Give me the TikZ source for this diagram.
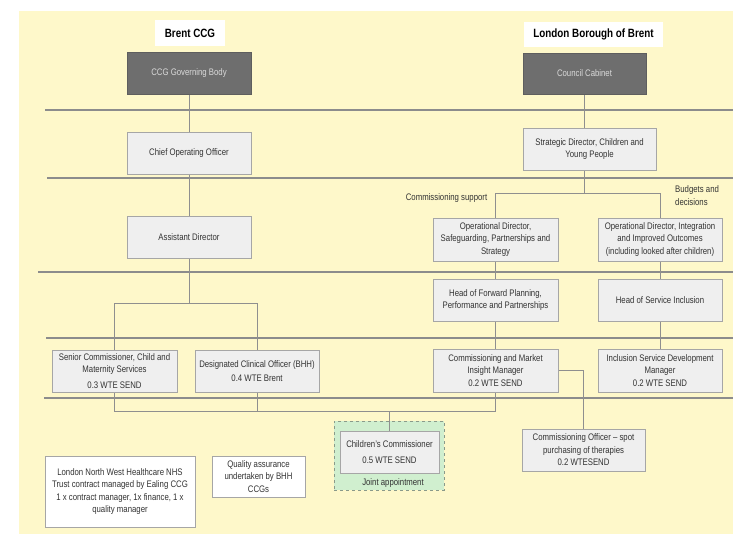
\documentclass[tikz,border=0pt]{standalone}
\usepackage{fontspec}
\setmainfont[FakeStretch=0.82]{Liberation Sans}
\usetikzlibrary{backgrounds}
\pgfdeclarelayer{back}
\pgfdeclarelayer{conn}
\pgfsetlayers{back,conn,main}
\definecolor{bg}{HTML}{FEF8CA}
\definecolor{boxfill}{HTML}{EFEFEF}
\definecolor{boxline}{HTML}{A6A6A6}
\definecolor{dark}{HTML}{6E6E6E}
\definecolor{darkline}{HTML}{5E5E5E}
\definecolor{darktext}{HTML}{DADADA}
\definecolor{rulec}{HTML}{8C8C8C}
\definecolor{connc}{HTML}{8F8F8F}
\definecolor{txt}{HTML}{333333}
\definecolor{jointfill}{HTML}{D0EFCF}
\definecolor{jointline}{HTML}{8A9A8A}
\tikzset{
  base/.style={font=\fontsize{9.5}{12.5}\selectfont, text=txt, align=center, inner sep=1pt},
  box/.style={base, draw=boxline, fill=boxfill, line width=0.8pt, minimum width=124pt, minimum height=42pt},
  darkbox/.style={box, fill=dark, draw=darkline, text=darktext},
  whitebox/.style={box, fill=white},
  title/.style={fill=white, font=\bfseries\fontsize{12}{14}\selectfont, text=black, inner sep=0pt},
  lbl/.style={base},
  jointbox/.style={draw=jointline, fill=jointfill, dashed, line width=0.9pt, minimum width=110pt, minimum height=69pt, inner sep=0pt},
  rule/.style={draw=rulec, line width=1.1pt},
  conn/.style={draw=connc, line width=0.9pt},
}
\begin{document}
\begin{tikzpicture}[x=1pt,y=-1pt]
\useasboundingbox (0,0) rectangle (733,534);
\begin{pgfonlayer}{back}
\fill[bg] (19,11) rectangle (733,534);
\foreach \yy/\xx in {110/45,178/47,272/38,338/46,398/44}
  \draw[rule] (\xx,\yy) -- (733,\yy);
\node[jointbox] (joint) at (389,455.5) {};
\end{pgfonlayer}

% titles
\node[title, minimum width=70pt, minimum height=26pt] (brent) at (190,33) {Brent CCG};
\node[title, minimum width=139pt, minimum height=25pt] (lbb) at (593.5,34.5) {London Borough of Brent};

% CCG side
\node[darkbox] (ccggb) at (189,73) {CCG Governing Body};
\node[box] (coo) at (189,153.5) {Chief Operating Officer};
\node[box] (ad) at (189,237) {Assistant Director};
\node[box, minimum width=125pt] (sc) at (114.5,371) {Senior Commissioner, Child and\\Maternity Services\\[3pt]0.3 WTE SEND};
\node[box] (dco) at (257,371) {Designated Clinical Officer (BHH)\\[2pt]0.4 WTE Brent};

% Council side
\node[darkbox, minimum width=123pt, minimum height=41pt] (cabinet) at (584.5,73.5) {Council Cabinet};
\node[box, minimum width=133pt] (sd) at (589.5,149) {Strategic Director, Children and\\Young People};
\node[box, minimum width=125pt, minimum height=43pt] (ods) at (495.5,239.5) {Operational Director,\\Safeguarding, Partnerships and\\Strategy};
\node[box, minimum height=43pt] (odi) at (660,239.5) {Operational Director, Integration\\and Improved Outcomes\\(including looked after children)};
\node[box, minimum width=125pt] (hfp) at (495.5,300) {Head of Forward Planning,\\Performance and Partnerships};
\node[box] (hsi) at (660,300) {Head of Service Inclusion};
\node[box, minimum width=125pt, minimum height=43pt] (cmim) at (495.5,370.5) {Commissioning and Market\\Insight Manager\\0.2 WTE SEND};
\node[box, minimum height=43pt] (isdm) at (660,370.5) {Inclusion Service Development\\Manager\\0.2 WTE SEND};
\node[box, minimum width=99pt] (cc) at (389.5,452) {Children's Commissioner\\[3pt]0.5 WTE SEND};
\node[lbl] (jointlbl) at (393,483) {Joint appointment};
\node[box, minimum width=123pt] (co) at (583.5,450) {Commissioning Officer -- spot\\purchasing of therapies\\0.2 WTESEND};

% bottom left notes
\node[whitebox, minimum width=150pt, minimum height=71pt] (lnw) at (120,491.5) {London North West Healthcare NHS\\Trust contract managed by Ealing CCG\\1 x contract manager, 1x finance, 1 x\\quality manager};
\node[whitebox, minimum width=93pt, minimum height=41pt] (qa) at (258.5,476.5) {Quality assurance\\undertaken by BHH\\CCGs};

% labels
\node[lbl] (cs) at (446.5,198) {Commissioning support};
\node[lbl, align=left, anchor=west] (bd) at (674,195.5) {Budgets and\\decisions};

% connectors
\coordinate (adj) at (189,303);
\coordinate (lb) at (0,411);
\coordinate (rb) at (0,193);
\begin{pgfonlayer}{conn}
\draw[conn] (ccggb) -- (coo);
\draw[conn] (coo) -- (ad);
\draw[conn] (ad.south) -- (adj);
\draw[conn] (sc.north) -- (sc.north |- adj) -- (dco.north |- adj) -- (dco.north);
\draw[conn] (sc.south) -- (sc.south |- lb) -- (cmim.south |- lb) -- (cmim.south);
\draw[conn] (dco.south) -- (dco.south |- lb);
\draw[conn] (cc.north |- lb) -- (cc.north);
\draw[conn] (cabinet.south) -- (cabinet.south |- sd.north);
\draw[conn] (cabinet.south |- sd.south) -- (cabinet.south |- rb);
\draw[conn] (ods.north) -- (ods.north |- rb) -- (odi.north |- rb) -- (odi.north);
\draw[conn] (ods) -- (hfp);
\draw[conn] (hfp) -- (cmim);
\draw[conn] (odi) -- (hsi);
\draw[conn] (hsi) -- (isdm);
\draw[conn] (cmim.east) -| (co.north);
\end{pgfonlayer}
\end{tikzpicture}
\end{document}
